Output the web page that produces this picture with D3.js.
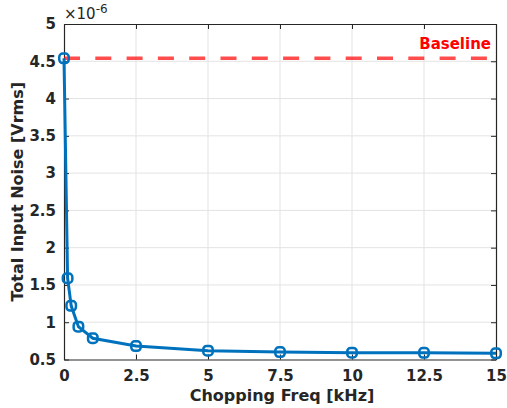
<!DOCTYPE html>
<html>
<head>
<meta charset="utf-8">
<script src="https://cdn.jsdelivr.net/npm/d3@7"></script>
<style>
  html, body { margin: 0; padding: 0; background: #fff; }
  svg text { font-family: "DejaVu Sans", sans-serif; font-weight: bold; fill: #262626; }
</style>
</head>
<body>
<svg id="chart" width="507" height="408"></svg>
<script>
// Chopping frequency sweep (kHz) and total input-referred noise (×1e-6 Vrms)
const freqKHz = [0, 0.125, 0.25, 0.5, 1, 2.5, 5, 7.5, 10, 12.5, 15];
const noise = [4.54, 1.59, 1.22, 0.94, 0.785, 0.68, 0.618, 0.60, 0.592, 0.59, 0.583];
const baseline = 4.54;
const xTicks = [0, 2.5, 5, 7.5, 10, 12.5, 15];
const yTicks = [0.5, 1, 1.5, 2, 2.5, 3, 3.5, 4, 4.5, 5];

const svg = d3.select("#chart");
const plotL = 64, plotR = 496, plotT = 24, plotB = 359.5;

const x = d3.scaleLinear().domain([0, 15]).range([plotL, plotR]);
const y = d3.scaleLinear().domain([0.5, 5]).range([plotB, plotT]);

const axisColor = "#262626";

// grid
const grid = svg.append("g");
grid.selectAll(".gx").data(xTicks.slice(1, -1)).enter().append("line")
  .attr("x1", d => x(d)).attr("x2", d => x(d))
  .attr("y1", plotT).attr("y2", plotB)
  .attr("stroke", "#e3e3e3").attr("stroke-width", 1);
grid.selectAll(".gy").data(yTicks.slice(1, -1)).enter().append("line")
  .attr("y1", d => y(d)).attr("y2", d => y(d))
  .attr("x1", plotL).attr("x2", plotR)
  .attr("stroke", "#e3e3e3").attr("stroke-width", 1);

// axes (ticks point inward, boxed)
const fmt = d => String(d);
const xb = svg.append("g").attr("transform", `translate(0,${plotB})`)
  .call(d3.axisBottom(x).tickValues(xTicks).tickFormat(fmt).tickSizeInner(-5).tickSizeOuter(0).tickPadding(11));
const xt = svg.append("g").attr("transform", `translate(0,${plotT})`)
  .call(d3.axisTop(x).tickValues(xTicks).tickFormat("").tickSizeInner(-5).tickSizeOuter(0));
const yl = svg.append("g").attr("transform", `translate(${plotL},0)`)
  .call(d3.axisLeft(y).tickValues(yTicks).tickFormat(fmt).tickSizeInner(-5).tickSizeOuter(0).tickPadding(8));
const yr = svg.append("g").attr("transform", `translate(${plotR},0)`)
  .call(d3.axisRight(y).tickValues(yTicks).tickFormat("").tickSizeInner(-5).tickSizeOuter(0));

[xb, xt, yl, yr].forEach(g => {
  g.select(".domain").attr("stroke", axisColor).attr("stroke-width", 1.2);
  g.selectAll(".tick line").attr("stroke", axisColor).attr("stroke-width", 1);
  g.selectAll(".tick text").attr("fill", axisColor)
    .style("font-family", "'DejaVu Sans', sans-serif").style("font-weight", "bold").style("font-size", "15px");
});

// baseline reference
svg.append("line")
  .attr("x1", x(0)).attr("x2", x(15))
  .attr("y1", y(baseline)).attr("y2", y(baseline))
  .attr("stroke", "#ff0000").attr("stroke-opacity", 0.7)
  .attr("stroke-width", 3.5).attr("stroke-dasharray", "16,15.3");
svg.append("text")
  .attr("x", plotR - 5).attr("y", y(baseline) - 9)
  .attr("text-anchor", "end")
  .style("font-size", "15px").style("fill", "#ff0000")
  .text("Baseline");

// noise curve
const pts = freqKHz.map((f, i) => [f, noise[i]]);
svg.append("path")
  .datum(pts)
  .attr("fill", "none")
  .attr("stroke", "#0072bd")
  .attr("stroke-width", 3)
  .attr("d", d3.line().x(d => x(d[0])).y(d => y(d[1])));
svg.selectAll(".mk").data(pts).enter().append("rect")
  .attr("x", d => x(d[0]) - 4.75).attr("y", d => y(d[1]) - 4.75)
  .attr("width", 9.5).attr("height", 9.5).attr("rx", 3.5)
  .attr("fill", "none").attr("stroke", "#0072bd").attr("stroke-width", 2.5);

// axis labels
svg.append("text")
  .attr("x", 282).attr("y", 401)
  .attr("text-anchor", "middle").style("font-size", "16px")
  .text("Chopping Freq [kHz]");
svg.append("text")
  .attr("transform", `translate(23,${(plotT + plotB) / 2}) rotate(-90)`)
  .attr("text-anchor", "middle").style("font-size", "16px")
  .text("Total Input Noise [Vrms]");

// exponent multiplier
const mult = svg.append("text").attr("x", 64).attr("y", 19)
  .style("font-size", "15px").style("font-weight", "normal");
mult.append("tspan").text("×10");
mult.append("tspan").attr("dy", -6).style("font-size", "12px").text("-6");
</script>
</body>
</html>
